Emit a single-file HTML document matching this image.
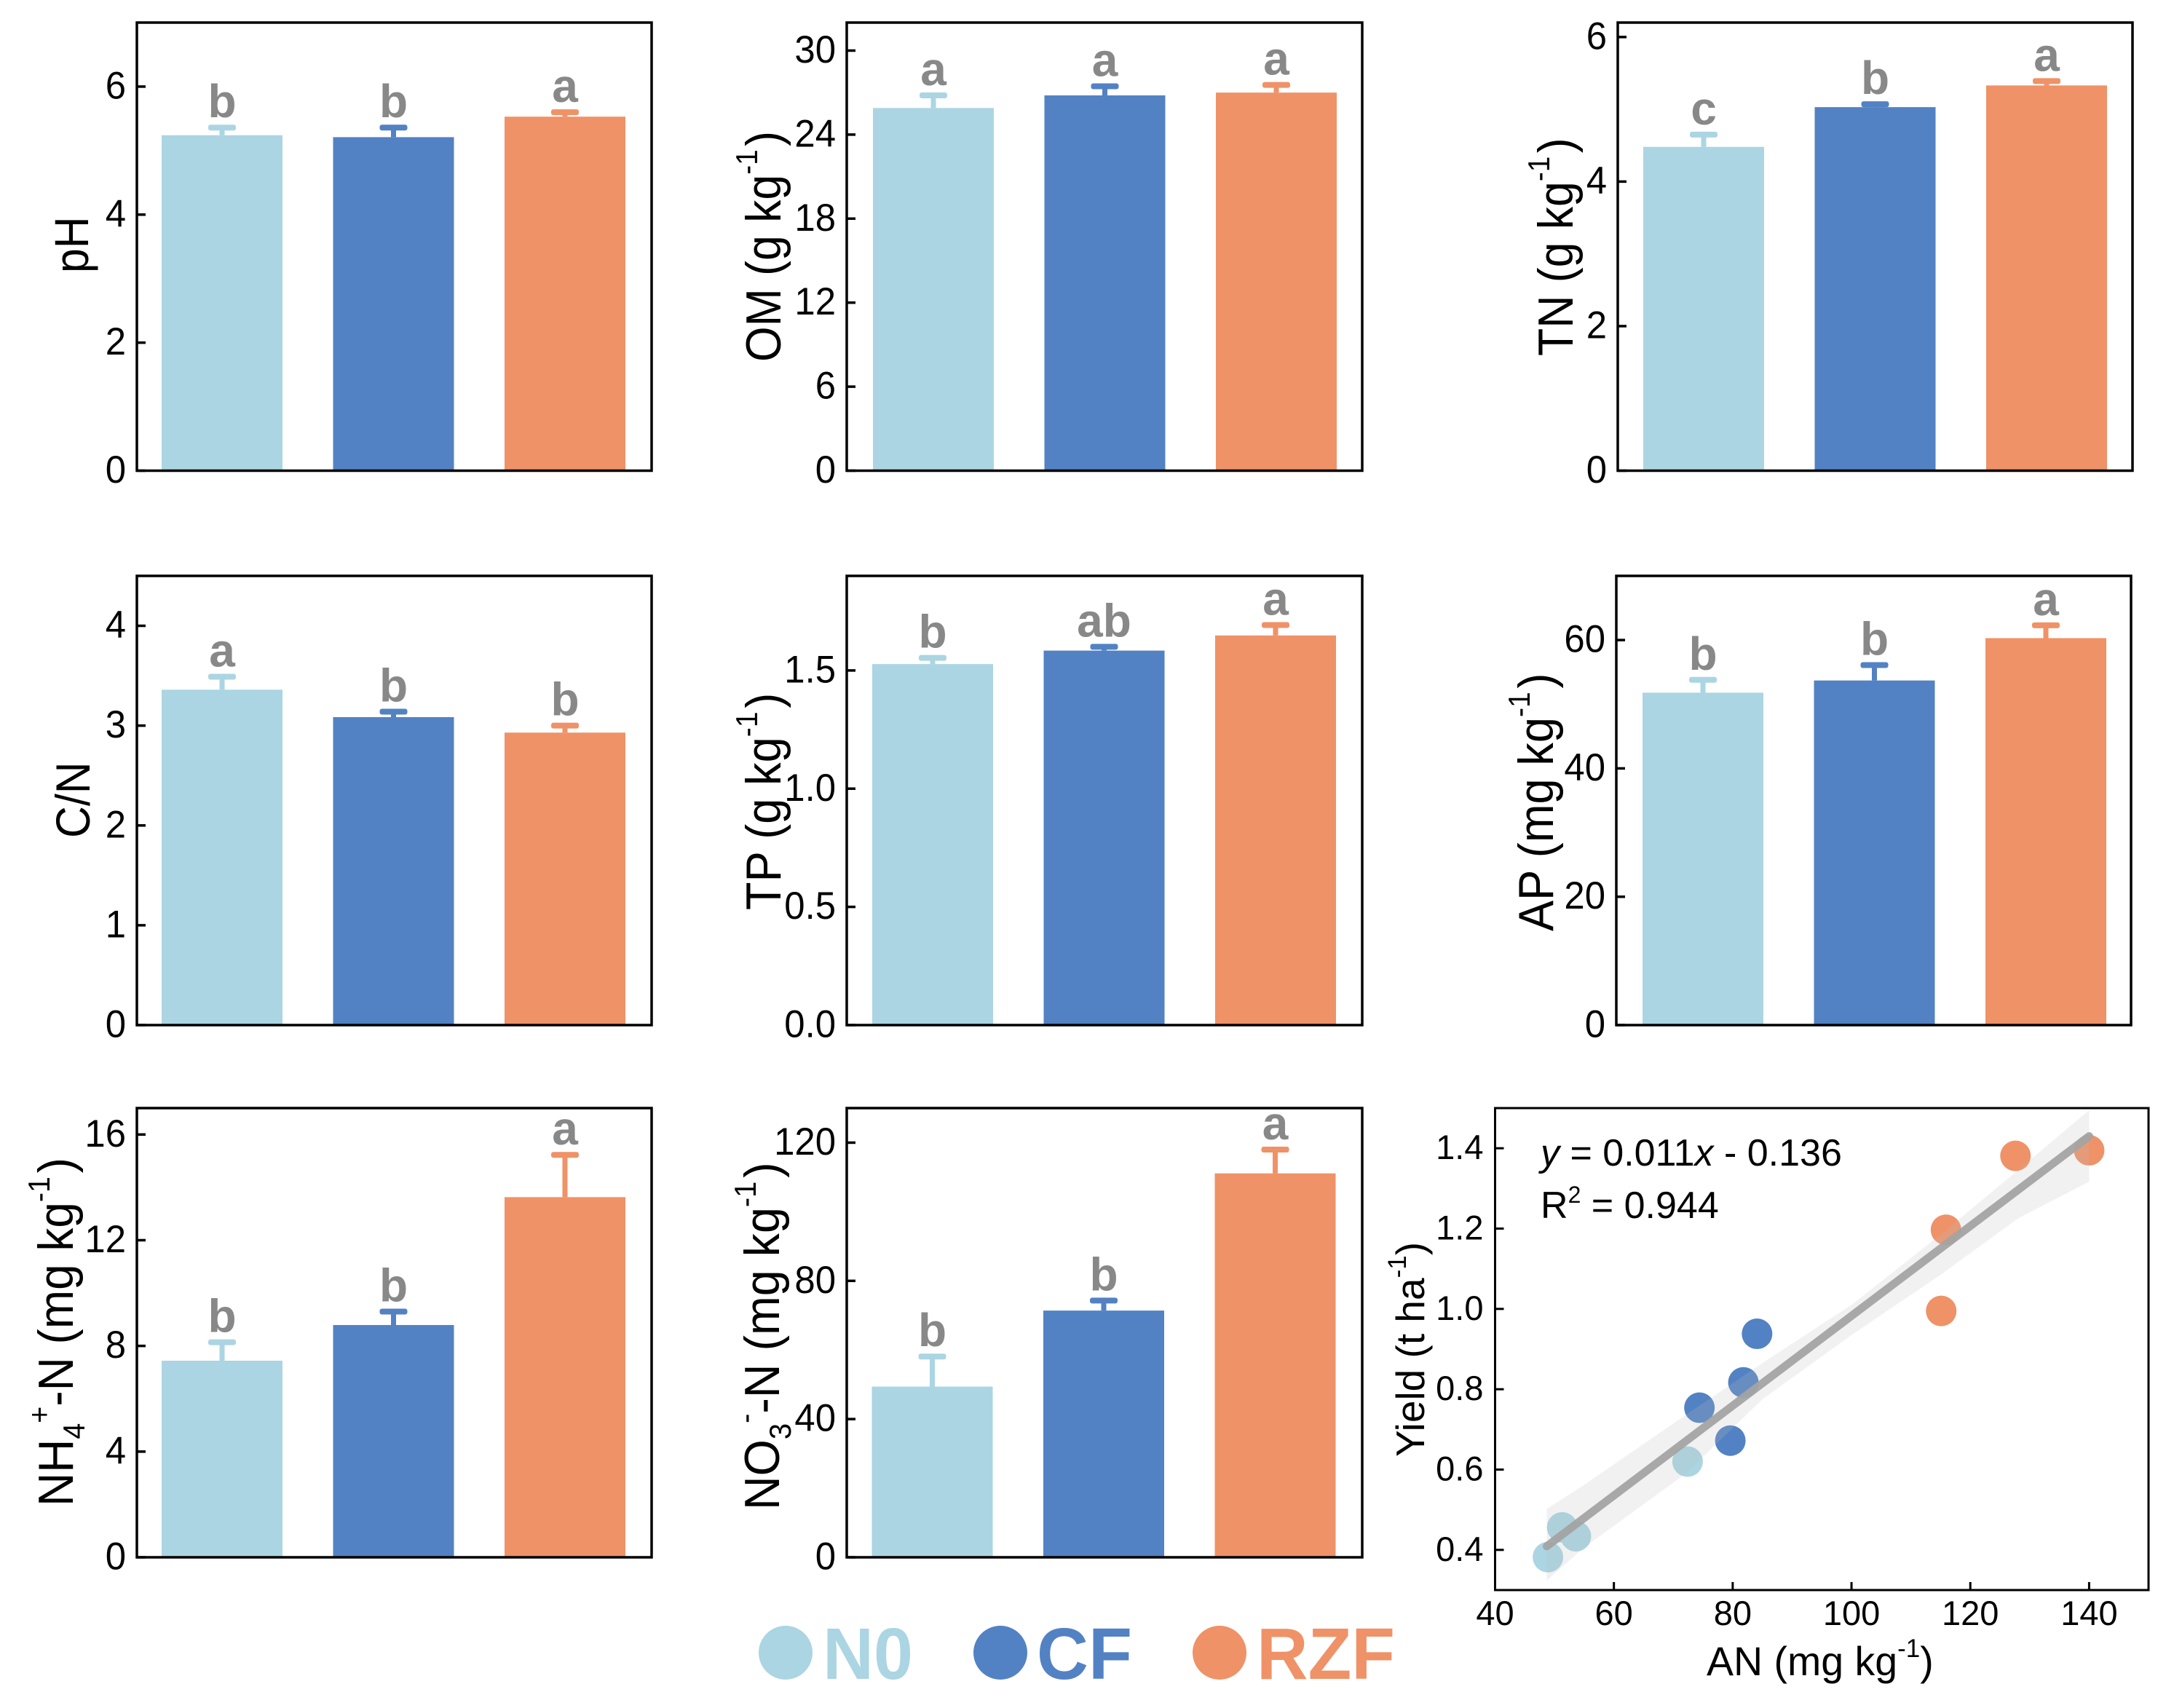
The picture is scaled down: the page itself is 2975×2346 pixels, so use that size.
<!DOCTYPE html>
<html lang="en">
<head>
<meta charset="utf-8">
<title>Soil properties and yield by treatment</title>
<style>
html,body{margin:0;padding:0;background:#fff;width:2975px;height:2346px;overflow:hidden}
svg{display:block}
text{font-family:"Liberation Sans",Arial,sans-serif;fill:#000}
</style>
</head>
<body>
<svg id="figure" xmlns="http://www.w3.org/2000/svg" width="2975" height="2346" viewBox="0 0 2975 2346">
  <rect width="2975" height="2346" fill="#fff"/>
  <g id="panels"></g>

  <g font-size="68">
    <text font-size="66" transform="translate(121,375) rotate(-90) scale(.92,1)">pH</text>
    <text transform="translate(1072,497) rotate(-90) scale(.92,1)" xml:space="preserve">OM (g kg<tspan font-size="42" dy="-32">-1</tspan><tspan dy="32" dx="5">)</tspan></text>
    <text transform="translate(2160,489) rotate(-90) scale(.92,1)" xml:space="preserve">TN (g kg<tspan font-size="42" dy="-32">-1</tspan><tspan dy="32" dx="5">)</tspan></text>
    <text font-size="66" transform="translate(123,1151) rotate(-90) scale(.92,1)">C/N</text>
    <text transform="translate(1072,1250) rotate(-90) scale(.93,1)" xml:space="preserve">TP (g kg<tspan font-size="42" dy="-32">-1</tspan><tspan dy="32" dx="5">)</tspan></text>
    <text transform="translate(2133,1279) rotate(-90) scale(.93,1)" xml:space="preserve">AP (mg kg<tspan font-size="42" dy="-32">-1</tspan><tspan dy="32" dx="5">)</tspan></text>
    <text transform="translate(100,2069) rotate(-90) scale(.94,1)" xml:space="preserve">NH<tspan font-size="42" dy="16">4</tspan><tspan font-size="42" dy="-48">+</tspan><tspan dy="32">-N (mg kg</tspan><tspan font-size="42" dy="-32">-1</tspan><tspan dy="32" dx="5">)</tspan></text>
    <text transform="translate(1070,2074) rotate(-90) scale(.95,1)" xml:space="preserve">NO<tspan font-size="42" dy="16">3</tspan><tspan font-size="42" dy="-48">-</tspan><tspan dy="32">-N (mg kg</tspan><tspan font-size="42" dy="-32">-1</tspan><tspan dy="32" dx="5">)</tspan></text>
    <text font-size="55" transform="translate(1956,2001) rotate(-90)" xml:space="preserve">Yield (t ha<tspan font-size="35" dy="-25">-1</tspan><tspan dy="25">)</tspan></text>
  </g>

  <text x="2344" y="2301" font-size="55.5" xml:space="preserve">AN (mg kg<tspan font-size="35" dy="-25">-1</tspan><tspan dy="25">)</tspan></text>
  <text x="2116" y="1601" font-size="52"><tspan font-style="italic">y</tspan> = 0.011<tspan font-style="italic">x</tspan> - 0.136</text>
  <text x="2116" y="1673" font-size="52">R<tspan font-size="32" dy="-21">2</tspan><tspan dy="21"> = 0.944</tspan></text>

  <g font-size="100" font-weight="bold">
    <g>
      <circle cx="1079" cy="2270" r="37" fill="#abd5e2"/>
      <text x="1130" y="2306" textLength="124" lengthAdjust="spacingAndGlyphs" style="fill:#abd5e2">N0</text>
    </g>
    <g>
      <circle cx="1374" cy="2270" r="37" fill="#5282c3"/>
      <text x="1424" y="2306" textLength="131" lengthAdjust="spacingAndGlyphs" style="fill:#5282c3">CF</text>
    </g>
    <g>
      <circle cx="1675" cy="2270" r="37" fill="#ef9267"/>
      <text x="1726" y="2306" textLength="190" lengthAdjust="spacingAndGlyphs" style="fill:#ef9267">RZF</text>
    </g>
  </g>
</svg>

<script>
// ---------- data ----------
const treatments = ['N0', 'CF', 'RZF'];

const phMeans = [5.24, 5.21, 5.53];
const phErrorTops = [5.36, 5.36, 5.60];
const phLetters = ['b', 'b', 'a'];
const phTicks = ['0', '2', '4', '6'];

const omMeans = [25.9, 26.8, 27.0];
const omErrorTops = [26.8, 27.45, 27.55];
const omLetters = ['a', 'a', 'a'];
const omTicks = ['0', '6', '12', '18', '24', '30'];

const tnMeans = [4.48, 5.03, 5.33];
const tnErrorTops = [4.65, 5.07, 5.39];
const tnLetters = ['c', 'b', 'a'];
const tnTicks = ['0', '2', '4', '6'];

const cnMeans = [3.36, 3.085, 2.93];
const cnErrorTops = [3.49, 3.14, 3.0];
const cnLetters = ['a', 'b', 'b'];
const cnTicks = ['0', '1', '2', '3', '4'];

const tpMeans = [1.527, 1.584, 1.648];
const tpErrorTops = [1.553, 1.60, 1.692];
const tpLetters = ['b', 'ab', 'a'];
const tpTicks = ['0.0', '0.5', '1.0', '1.5'];

const apMeans = [51.8, 53.7, 60.3];
const apErrorTops = [53.8, 56.1, 62.3];
const apLetters = ['b', 'b', 'a'];
const apTicks = ['0', '20', '40', '60'];

const nh4Means = [7.44, 8.79, 13.63];
const nh4ErrorTops = [8.14, 9.3, 15.23];
const nh4Letters = ['b', 'b', 'a'];
const nh4Ticks = ['0', '4', '8', '12', '16'];

const no3Means = [49.4, 71.4, 111.1];
const no3ErrorTops = [58.1, 74.3, 118];
const no3Letters = ['b', 'b', 'a'];
const no3Ticks = ['0', '40', '80', '120'];

const n0AN = [48.9, 51.3, 53.6, 72.4];
const n0Yield = [0.382, 0.456, 0.434, 0.62];
const cfAN = [84.1, 81.8, 74.4, 79.6];
const cfYield = [0.938, 0.817, 0.754, 0.672];
const rzfAN = [127.6, 140, 115.9, 115.1];
const rzfYield = [1.381, 1.395, 1.197, 0.995];

const fitAN = [48.7, 140];
const fitYield = [0.409, 1.43];
const bandAN = [48.7, 55, 72, 85, 100, 115, 128, 140];
const bandUpper = [0.502, 0.562, 0.735, 0.865, 1.01, 1.185, 1.345, 1.495];
const bandLower = [0.324, 0.406, 0.589, 0.775, 0.935, 1.085, 1.225, 1.317];

const scatterXTicks = ['40', '60', '80', '100', '120', '140'];
const scatterYTicks = ['0.4', '0.6', '0.8', '1.0', '1.2', '1.4'];

// ---------- drawing ----------
const colors = ['#abd5e2', '#5282c3', '#ef9267'];
const NS = 'http://www.w3.org/2000/svg';
const root = document.getElementById('panels');

function make(tag, attrs, parent, text) {
  const el = document.createElementNS(NS, tag);
  for (const k in attrs) el.setAttribute(k, attrs[k]);
  if (text !== undefined) el.textContent = text;
  parent.appendChild(el);
  return el;
}

function drawBarPanel(key, box, yMax, means, errorTops, letters, ticks) {
  const g = make('g', {}, root);
  
  

  const y = v => box.bottom - (v / yMax) * (box.bottom - box.top);
  const barWidth = 166;
  const pitch = 235.5;
  const barX = i => box.left + box.inset + i * pitch;

  means.forEach((m, i) => {
    const cx = barX(i) + barWidth / 2;
    const color = colors[i];

    const stem = make('rect', { x: cx - 3.5, y: y(errorTops[i]), width: 7, height: Math.max(0, y(m) - y(errorTops[i])), fill: color }, g);
    
    

    const cap = make('rect', { x: cx - 19, y: y(errorTops[i]) - 4, width: 38, height: 8, rx: 3, fill: color }, g);
    
    

    const bar = make('rect', { x: barX(i), y: y(m), width: barWidth, height: box.bottom - y(m), fill: color }, g);
    
    

    const letter = make('text', { x: cx, y: y(errorTops[i]) - 14, 'font-size': 64, 'font-weight': 'bold', 'text-anchor': 'middle', style: 'fill:#888888' }, g, letters[i]);
    
    
  });

  ticks.forEach(label => {
    const ty = y(Number(label));
    const tick = make('line', { x1: box.left, x2: box.left + 12, y1: ty, y2: ty, stroke: '#000', 'stroke-width': 3.5 }, g);
    
    

    const txt = make('text', { x: 0, y: 0, 'font-size': 53, 'text-anchor': 'end', transform: 'translate(' + (box.left - 15) + ',' + (ty + 16.5) + ') scale(.96,1)' }, g, label);
    
    
  });

  const frame = make('rect', { x: box.left, y: box.top, width: box.right - box.left, height: box.bottom - box.top, fill: 'none', stroke: '#000', 'stroke-width': 3.5 }, g);
  
  
}

drawBarPanel('ph', { left: 188, right: 895, top: 31, bottom: 646.5, inset: 34 }, 7, phMeans, phErrorTops, phLetters, phTicks);
drawBarPanel('om', { left: 1163, right: 1871, top: 31, bottom: 646.5, inset: 36 }, 32, omMeans, omErrorTops, omLetters, omTicks);
drawBarPanel('tn', { left: 2222, right: 2929, top: 31, bottom: 646.5, inset: 35 }, 6.2, tnMeans, tnErrorTops, tnLetters, tnTicks);
drawBarPanel('cn', { left: 188, right: 895, top: 791, bottom: 1408, inset: 34 }, 4.5, cnMeans, cnErrorTops, cnLetters, cnTicks);
drawBarPanel('tp', { left: 1163, right: 1871, top: 791, bottom: 1408, inset: 35 }, 1.9, tpMeans, tpErrorTops, tpLetters, tpTicks);
drawBarPanel('ap', { left: 2220, right: 2927, top: 791, bottom: 1408, inset: 36 }, 70, apMeans, apErrorTops, apLetters, apTicks);
drawBarPanel('nh4', { left: 188, right: 895, top: 1522, bottom: 2139, inset: 34 }, 17, nh4Means, nh4ErrorTops, nh4Letters, nh4Ticks);
drawBarPanel('no3', { left: 1163, right: 1871, top: 1522, bottom: 2139, inset: 34.5 }, 130, no3Means, no3ErrorTops, no3Letters, no3Ticks);

(function drawScatter() {
  const box = { left: 2053.5, right: 2951, top: 1522, bottom: 2184 };
  const xMin = 40, xMax = 150, yMin = 0.3, yMax = 1.5;
  const sx = v => box.left + (v - xMin) / (xMax - xMin) * (box.right - box.left);
  const sy = v => box.bottom - (v - yMin) / (yMax - yMin) * (box.bottom - box.top);

  const g = make('g', {}, root);
  
  

  const groups = [[n0AN, n0Yield], [cfAN, cfYield], [rzfAN, rzfYield]];
  groups.forEach((grp, gi) => {
    grp[0].forEach((xv, i) => {
      const pt = make('circle', { cx: sx(xv), cy: sy(grp[1][i]), r: 21, fill: colors[gi] }, g);
      
      
    });
  });

  const upperPts = bandAN.map((xv, i) => sx(xv) + ',' + sy(bandUpper[i]));
  const lowerPts = bandAN.map((xv, i) => sx(xv) + ',' + sy(bandLower[i])).reverse();
  const band = make('polygon', { points: upperPts.concat(lowerPts).join(' '), fill: '#bbbbbb', 'fill-opacity': 0.21 }, g);
  
  

  const fit = make('line', { x1: sx(fitAN[0]), y1: sy(fitYield[0]), x2: sx(fitAN[1]), y2: sy(fitYield[1]), stroke: '#a3a3a3', 'stroke-width': 11, 'stroke-linecap': 'round', 'stroke-opacity': 0.95 }, g);
  
  

  scatterXTicks.forEach(label => {
    const tx = sx(Number(label));
    const tick = make('line', { x1: tx, x2: tx, y1: box.bottom, y2: box.bottom - 11, stroke: '#000', 'stroke-width': 3 }, g);
    
    

    const txt = make('text', { x: tx, y: 2232, 'font-size': 47, 'text-anchor': 'middle' }, g, label);
    
    
  });

  scatterYTicks.forEach(label => {
    const ty = sy(Number(label));
    const tick = make('line', { x1: box.left, x2: box.left + 12, y1: ty, y2: ty, stroke: '#000', 'stroke-width': 3 }, g);
    
    

    const txt = make('text', { x: box.left - 16, y: ty + 15, 'font-size': 47, 'text-anchor': 'end' }, g, label);
    
    
  });

  const frame = make('rect', { x: box.left, y: box.top, width: box.right - box.left, height: box.bottom - box.top, fill: 'none', stroke: '#000', 'stroke-width': 3 }, g);
  
  
})();
</script>
</body>
</html>
